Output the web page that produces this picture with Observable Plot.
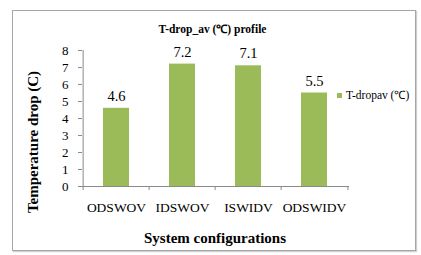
<!DOCTYPE html>
<html><head><meta charset="utf-8">
<script src="https://cdn.jsdelivr.net/npm/d3@7"></script>
<script src="https://cdn.jsdelivr.net/npm/@observablehq/plot@0.6"></script>
<style>
body{margin:0;background:#fff;font-family:"Liberation Serif","Times New Roman",Times,serif;}
#wrap{position:relative;width:421px;height:255px;}
#box{position:absolute;left:12px;top:10px;width:402px;height:239px;border:1px solid #a6a6a6;box-shadow:1px 1px 1px #d0d0d0;}
#title{position:absolute;left:2px;width:421px;top:22px;text-align:center;font-weight:bold;font-size:11.5px;line-height:14px;}
#legend{position:absolute;left:337px;top:88px;font-size:11.5px;line-height:14px;white-space:nowrap;}
#legend span.sw{display:inline-block;width:5px;height:5px;background:#9bbb59;margin-right:4px;vertical-align:middle;position:relative;top:-1px;}
.ttl{position:absolute;font-weight:bold;font-size:15px;line-height:18px;white-space:nowrap;text-align:center;}
#xt{left:0;width:430px;top:229px;}
#yt{left:33px;top:142px;width:200px;margin-left:-100px;margin-top:-9px;transform:rotate(-90deg);}
svg{position:absolute;left:0;top:0;}
</style></head>
<body><div id="wrap"><div id="box"></div><div id="title">T-drop_av (℃) profile</div>
<div id="legend"><span class="sw"></span>T-dropav (℃)</div>
<div class="ttl" id="xt"></div><div class="ttl" id="yt"></div></div>
<script>
const configs = ["ODSWOV", "IDSWOV", "ISWIDV", "ODSWIDV"];
const tdrop = [4.6, 7.2, 7.1, 5.5];
const yTicks = [0, 1, 2, 3, 4, 5, 6, 7, 8];
const xTitle = "System configurations";
const yTitle = "Temperature drop (C)";

document.getElementById("xt").textContent = xTitle;
document.getElementById("yt").textContent = yTitle;

const data = configs.map((c, i) => ({config: c, value: tdrop[i]}));
const step = (349 - 82) / 4;
const axisColor = "#8a8a8a";

const chart = Plot.plot({
  width: 421, height: 255,
  marginLeft: 82, marginRight: 72, marginTop: 50, marginBottom: 69,
  style: {fontFamily: "'Liberation Serif','Times New Roman',Times,serif", background: "transparent", color: "#000"},
  x: {domain: configs, paddingInner: 0.6, paddingOuter: 0.3, axis: null},
  y: {domain: [0, 8], axis: null},
  marks: [
    Plot.barY(data, {x: "config", y: "value", fill: "#9bbb59"}),
    Plot.ruleY([0], {stroke: axisColor}),
    Plot.ruleX([configs[0]], {dx: -step / 2, y1: 0, y2: 8, stroke: axisColor}),
    Plot.axisY({ticks: yTicks, tickSize: 4, tickPadding: 10, stroke: axisColor, fontSize: 13, label: null, tickFormat: d => d}),
    Plot.axisX({tickSize: 4, dx: -step / 2, stroke: axisColor, tickFormat: () => "", label: null}),
    Plot.axisX({ticks: [configs[configs.length - 1]], tickSize: 4, dx: step / 2, stroke: axisColor, tickFormat: () => "", label: null}),
    Plot.axisX({tickSize: 0, tickPadding: 16, fontSize: 13.5, label: null}),
    Plot.text(data, {x: "config", y: "value", text: d => d.value.toFixed(1), dy: -12, fontSize: 14.5})
  ]
});
document.getElementById("wrap").appendChild(chart);
</script></body></html>
